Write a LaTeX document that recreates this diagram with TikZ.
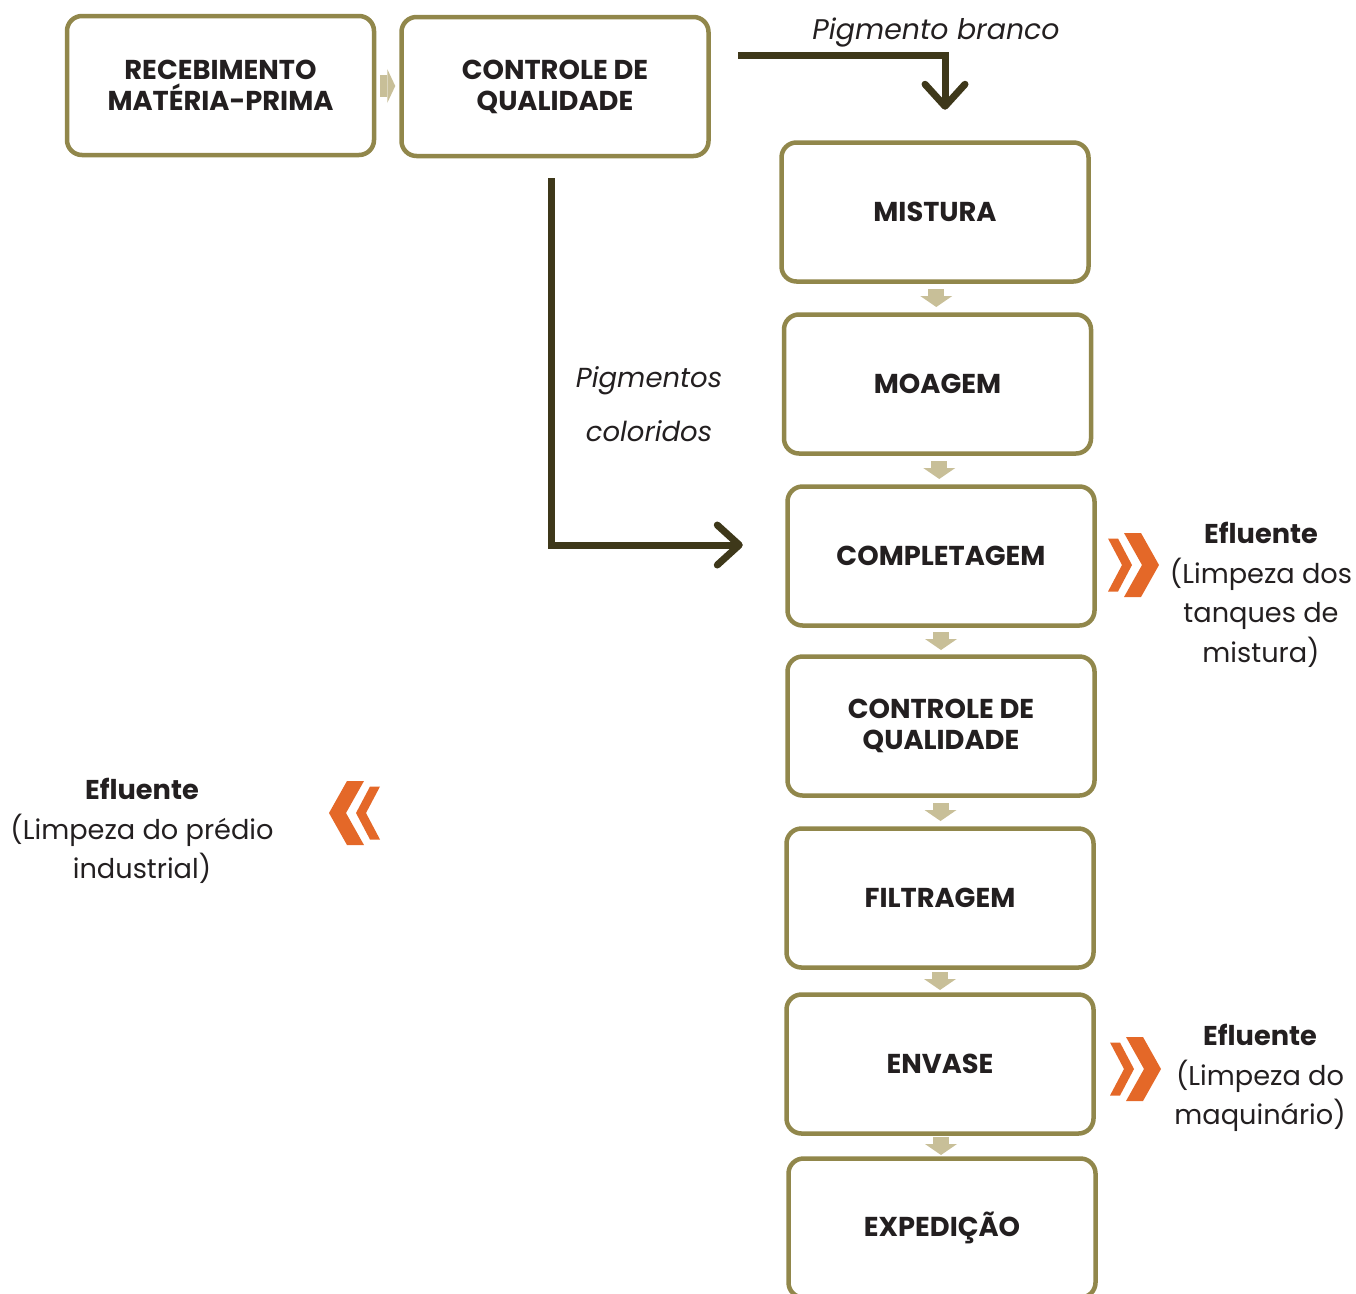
\documentclass[tikz,border=0pt]{standalone}
\usepackage{fontspec}
\setmainfont{Poppins}
\usepackage{tikz}
\usetikzlibrary{calc, arrows.meta}
\definecolor{boxline}{RGB}{145,135,75}
\definecolor{flowc}{RGB}{200,191,152}
\definecolor{pigc}{RGB}{62,56,26}
\definecolor{effl}{RGB}{228,104,40}
\definecolor{txt}{RGB}{35,31,32}
\tikzset{stage/.style = {draw=boxline, fill=white, line width=4.5pt, rounded corners=15pt, minimum width=307pt, minimum height=139pt, align=center, text=txt, font=\fontsize{27.3}{31}\selectfont\bfseries}}
\tikzset{flow/.style = {draw=flowc, line width=16pt, -{Triangle[width=32pt,length=11pt,line width=0pt]}}}
\tikzset{pigline/.style = {draw=pigc, line width=7pt, -{Straight Barb[length=22pt,width=40pt,round]}}}
\tikzset{note/.style = {align=center, text=txt, font=\fontsize{27.2}{39.5}\selectfont}}
\newcommand{\flowdown}[2]{
   \coordinate (mid) at ($ (#1.south)!.5!(#2.north) $);
   \draw[flow] ([yshift=9pt]mid) -- ([yshift=-9pt]mid);
}
\newcommand{\flowright}[2]{
   \coordinate (mid) at ($ (#1.east)!.5!(#2.west) $);
   \draw[flow, line width=22pt, -{Triangle[width=34pt,length=8pt,line width=0pt]}] ([xshift=-7.5pt]mid) -- ([xshift=7.5pt]mid);
}
\newcommand{\chevrons}[2]{
   \begin{scope}[shift={(#1)}, #2]
      \fill[effl] (-35,-32) -- (-18,-32) -- (0,0) -- (-18,32) -- (-35,32) -- (-17,0) -- cycle;
      \fill[effl] (-51,-26.5) -- (-41,-26.5) -- (-27,0) -- (-41,26.5) -- (-51,26.5) -- (-37,0) -- cycle;
   \end{scope}
}

\begin{document}
\begin{tikzpicture}[x=1pt, y=-1pt]
		\useasboundingbox (0,0) rectangle (1356,1293);

		% Stages
		\node[stage] (rec) at (220.5,85.5) {RECEBIMENTO\\MATÉRIA-PRIMA};
		\node[stage] (cq1) at (555,86.5) {CONTROLE DE\\QUALIDADE};
		\node[stage] (mis) at (935,212) {MISTURA};
		\node[stage] (moa) at (937.5,384) {MOAGEM};
		\node[stage] (com) at (941,556) {COMPLETAGEM};
		\node[stage] (cq2) at (941,726) {CONTROLE DE\\QUALIDADE};
		\node[stage] (fil) at (940,898) {FILTRAGEM};
		\node[stage] (env) at (940,1064) {ENVASE};
		\node[stage] (exp) at (942,1228) {EXPEDIÇÃO};

		% Flow
		\flowright{rec}{cq1}
		\flowdown{mis}{moa}
		\flowdown{moa}{com}
		\flowdown{com}{cq2}
		\flowdown{cq2}{fil}
		\flowdown{fil}{env}
		\flowdown{env}{exp}

		% Pigments
		\coordinate (branco) at (738,55);
		\draw[pigline] (branco) -| ([xshift=10pt,yshift=30.5pt]mis.north);
		\node[note, font=\fontsize{28.4}{54}\selectfont\itshape] (brancolabel) at (936,33) {Pigmento branco};
		%
		\draw[pigline] ([xshift=-4pt,yshift=-20pt]cq1.south) |- ([xshift=-42.5pt,yshift=11pt]com.west);
		\node[note, font=\fontsize{27.5}{54}\selectfont\itshape] (coloridoslabel) at (649,404) {Pigmentos\\coloridos};

		% Effluents
		\chevrons{1159,565}{}
		\node[note] (eff1) at (1261,595) {\textbf{Efluente}\\(Limpeza dos\\tanques de\\mistura)};
		%
		\chevrons{1161,1069}{}
		\node[note] (eff2) at (1260,1078) {\textbf{Efluente}\\(Limpeza do\\maquinário)};
		%
		\chevrons{329,813}{xscale=-1}
		\node[note] (eff3) at (142,831) {\textbf{Efluente}\\(Limpeza do prédio\\industrial)};
	\end{tikzpicture}
\end{document}
